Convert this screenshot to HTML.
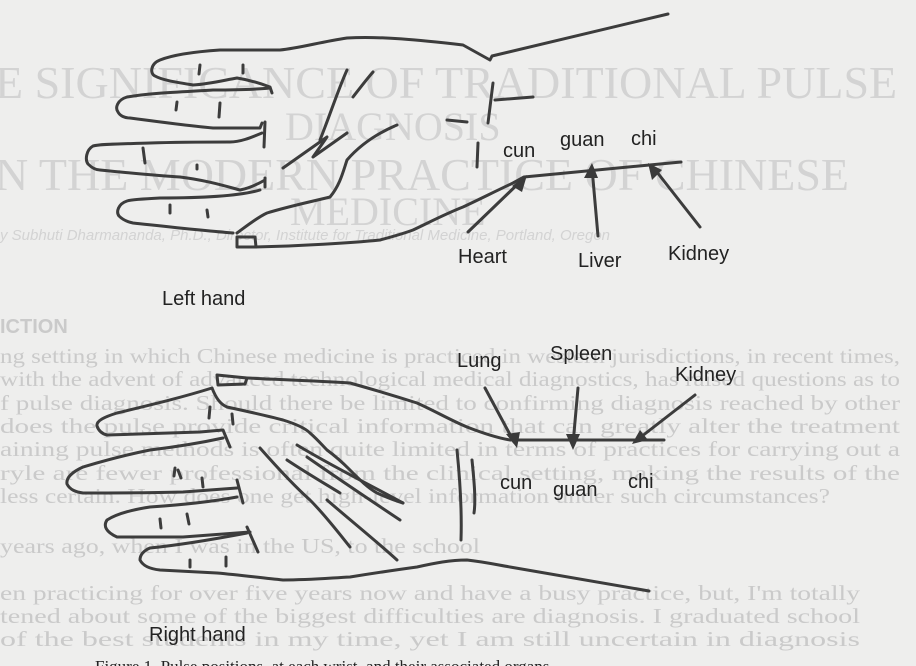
<!DOCTYPE html>
<html><head><meta charset="utf-8"><style>
html,body{margin:0;padding:0;width:916px;height:666px;overflow:hidden;background:#ededec}
svg{display:block}
</style></head><body>
<svg width="916" height="666" viewBox="0 0 916 666" xmlns="http://www.w3.org/2000/svg">
<rect width="916" height="666" fill="#eeeeed"/>
<g fill="#d3d3d3" font-family="Liberation Serif, serif">
<text x="-5" y="98" font-size="46">E SIGNIFICANCE OF TRADITIONAL PULSE</text>
<text x="285" y="140" font-size="40">DIAGNOSIS</text>
<text x="-5" y="190" font-size="46">N THE MODERN PRACTICE OF CHINESE</text>
<text x="290" y="225" font-size="40">MEDICINE</text>
<text x="0" y="240" font-size="15" font-style="italic" font-family="Liberation Sans, sans-serif">y Subhuti Dharmananda, Ph.D., Director, Institute for Traditional Medicine, Portland, Oregon</text>
</g>
<g fill="#cacaca" font-family="Liberation Serif, serif" font-size="21">
<text x="0" y="333" font-size="20" font-weight="bold" font-family="Liberation Sans, sans-serif">ICTION</text>
<text x="0" y="363" textLength="900" lengthAdjust="spacingAndGlyphs">ng setting in which Chinese medicine is practiced in western jurisdictions, in recent times,</text>
<text x="0" y="386" textLength="900" lengthAdjust="spacingAndGlyphs">with the advent of advanced technological medical diagnostics, has raised questions as to</text>
<text x="0" y="410" textLength="900" lengthAdjust="spacingAndGlyphs">f pulse diagnosis. Should there be limited to confirming diagnosis reached by other</text>
<text x="0" y="433" textLength="900" lengthAdjust="spacingAndGlyphs">does the pulse provide critical information that can greatly alter the treatment</text>
<text x="0" y="456" textLength="900" lengthAdjust="spacingAndGlyphs">aining pulse methods is often quite limited in terms of practices for carrying out a</text>
<text x="0" y="480" textLength="900" lengthAdjust="spacingAndGlyphs">ryle are fewer professional from the clinical setting, making the results of the</text>
<text x="0" y="503" textLength="830" lengthAdjust="spacingAndGlyphs">less certain. How does one get high-level information under such circumstances?</text>
<text x="0" y="553" textLength="480" lengthAdjust="spacingAndGlyphs">years ago, when I was in the US, to the school</text>
<text x="0" y="600" textLength="860" lengthAdjust="spacingAndGlyphs">en practicing for over five years now and have a busy practice, but, I'm totally</text>
<text x="0" y="623" textLength="860" lengthAdjust="spacingAndGlyphs">tened about some of the biggest difficulties are diagnosis. I graduated school</text>
<text x="0" y="646" textLength="860" lengthAdjust="spacingAndGlyphs">of the best students in my time, yet I am still uncertain in diagnosis</text>
</g>
<g fill="none" stroke="#3c3c3c" stroke-width="3" stroke-linecap="round" stroke-linejoin="round">
<path d="M668,14 L492,56 L490,60 L463,45 C420,40 380,36 347,38 C320,42 300,48 280,50 L220,50 C190,52 170,56 160,60 C150,64 150,74 155,76 C162,80 175,82 193,85 C210,84 225,80 237,78 C250,80 262,84 270,87 L272,93"/>
<path d="M270,88 C250,90 230,90 213,90 C180,92 150,93 127,97 C117,100 115,108 118,112 C120,116 125,118 130,118 C160,122 190,126 213,128 C230,128 245,128 260,128 L262,123"/>
<path d="M262,133 C250,138 240,142 230,142 C200,142 180,142 150,143 C120,144 100,144 93,146 C86,150 85,160 88,164 C92,168 96,170 100,170 C130,173 160,176 180,177 C205,180 225,186 240,190 C250,188 258,184 265,180"/>
<path d="M260,190 C240,196 200,198 160,198 C140,199 130,200 127,201 C118,204 116,212 119,216 C123,220 128,222 133,223 C170,227 205,231 233,233"/>
<path d="M237,237 L255,237 L256,247 L237,247 Z"/>
<path d="M255,247 C300,246 350,243 380,240 C395,236 405,233 413,230 C430,222 445,214 463,207 C480,199 498,190 513,183 L524,177 L681,162"/>
<path d="M237,233 C248,225 258,217 267,213 C290,206 310,202 330,197 C340,185 343,172 347,160 C360,145 378,133 397,125"/>
<path d="M283,168 L327,137 L313,157 L347,133 M320,140 C330,115 338,90 347,70 M353,97 C360,88 366,80 373,72"/>
<path d="M493,83 L488,123 M495,100 L533,97 M447,120 L467,122 M478,143 L477,167"/>
<path d="M200,65 L199,74 M243,65 L243,73 M177,102 L176,110 M220,103 L219,117 M143,148 L145,163 M197,165 L197,169 M170,205 L170,213 M207,210 L208,217 M265,122 L264,147 M265,178 L265,187"/>
<path d="M468,232 L522,180 M598,236 L592,168 M700,227 L653,167"/>
<path d="M217,375 L247,378 L245,384 L218,385 Z"/>
<path d="M247,378 C290,380 320,381 350,383 C375,390 395,396 417,403 C435,411 450,420 467,427 C485,434 498,438 510,440 L664,440"/>
<path d="M212,388 C216,398 220,404 227,407 C250,412 268,416 283,420 C296,424 305,428 310,433 C318,440 322,445 327,450 C338,458 344,464 350,470 C360,480 368,488 377,493 C388,498 396,501 403,503"/>
<path d="M212,388 C180,398 150,405 117,413 C104,417 96,421 97,426 C99,432 103,434 107,435 C140,434 170,433 200,432 L223,430 L230,447"/>
<path d="M223,438 C200,443 175,447 150,450 C120,456 100,462 83,467 C72,472 66,478 67,484 C70,490 76,492 83,493 C120,493 150,493 183,492 L237,488 M237,480 L243,503"/>
<path d="M237,497 C210,502 180,505 150,507 C130,510 115,515 107,520 C103,526 106,532 117,537 C140,537 160,537 183,537 L250,532 M247,527 L258,552"/>
<path d="M247,533 C210,540 180,545 150,548 C143,551 140,555 140,560 C143,566 150,569 160,570 C180,571 200,572 217,573 C240,575 262,578 283,580 C310,580 330,578 350,577 C375,573 395,570 417,567 C435,563 450,560 467,560 C485,562 498,565 510,567 L649,591"/>
<path d="M260,448 C275,465 292,484 310,500 C325,515 338,532 350,547 M287,460 C305,472 322,482 340,493 M297,445 C330,465 370,485 403,503 M307,457 C340,480 370,500 400,520 M327,500 C350,520 375,540 397,560"/>
<path d="M210,407 L209,418 M232,414 L233,424 M202,478 L203,487 M175,468 L174,476 M178,470 L181,478 M160,519 L161,528 M187,514 L189,524 M190,560 L190,567 M226,557 L226,566"/>
<path d="M457,450 C460,480 462,510 461,540 M472,460 C474,480 476,500 474,513"/>
<path d="M485,388 L514,442 M578,388 L573,444 M695,395 L637,440"/>
</g>
<g fill="#3a3a3a">
<polygon points="527,175 512,186 522,192"/>
<polygon points="592,163 584,178 598,178"/>
<polygon points="648,163 652,180 662,170"/>
<polygon points="517,448 506,434 520,432"/>
<polygon points="573,450 566,434 580,434"/>
<polygon points="632,444 640,430 648,440"/>
</g>
<g fill="#222" font-family="Liberation Sans, sans-serif" font-size="20">
<text x="503" y="157">cun</text>
<text x="560" y="146">guan</text>
<text x="631" y="145">chi</text>
<text x="458" y="263">Heart</text>
<text x="578" y="267">Liver</text>
<text x="668" y="260">Kidney</text>
<text x="162" y="305">Left hand</text>
<text x="457" y="367">Lung</text>
<text x="550" y="360">Spleen</text>
<text x="675" y="381">Kidney</text>
<text x="500" y="489">cun</text>
<text x="553" y="496">guan</text>
<text x="628" y="488">chi</text>
<text x="149" y="641">Right hand</text>
<text x="95" y="672" font-size="17" font-family="Liberation Serif, serif">Figure 1. Pulse positions, at each wrist, and their associated organs</text>
</g>
</svg>
</body></html>
